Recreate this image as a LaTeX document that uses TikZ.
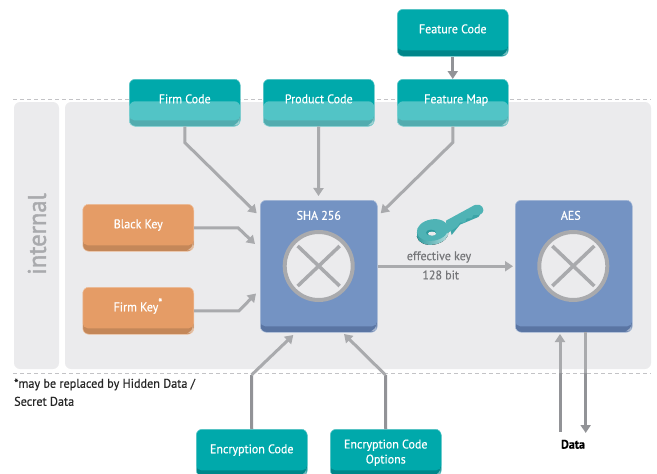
\documentclass[tikz,border=0pt]{standalone}
\usepackage{fontspec}
\setmainfont[FakeStretch=0.96,FakeBold=0.4]{PT Sans}
\usetikzlibrary{arrows.meta}

\definecolor{tealbox}{HTML}{00A9AB}
\definecolor{teallip}{HTML}{00868A}
\definecolor{orangebox}{HTML}{E59C66}
\definecolor{orangelip}{HTML}{C48759}
\definecolor{bluebox}{HTML}{7493C3}
\definecolor{bluelip}{HTML}{5A75A3}
\definecolor{panel}{HTML}{EBEBED}
\definecolor{linegray}{HTML}{A9AAAD}
\definecolor{linedark}{HTML}{929397}
\definecolor{labelgray}{HTML}{76777A}
\definecolor{keytop}{HTML}{4FB3B5}
\definecolor{keyside}{HTML}{2E9A9D}

\tikzset{
  lipbox/.style 2 args={draw=#1!55!white,line width=0.5pt,fill=#2,rounded corners=6pt,inner xsep=0pt,inner ysep=0pt,
    anchor=north west,text=white,font=\fontsize{12.5}{15}\selectfont,align=center,
    path picture={
      \fill[#1,rounded corners=5pt] ([yshift=6pt]path picture bounding box.south east) rectangle ([yshift=8pt]path picture bounding box.north west);
      \fill[white,opacity=0.45] ([xshift=-6pt,yshift=1pt]path picture bounding box.south east) -- ([xshift=-1pt,yshift=5pt]path picture bounding box.south east) -- ([xshift=-1pt,yshift=2pt]path picture bounding box.south east) -- cycle;
    }},
  codebox/.style={lipbox={tealbox}{teallip},minimum width=111pt,text height=24pt,text depth=23pt},
  optbox/.style={lipbox={tealbox}{teallip},minimum width=111pt,minimum height=47pt},
  keybox/.style={lipbox={orangebox}{orangelip},minimum width=111pt,text height=24pt,text depth=23pt},
  algobox/.style={lipbox={bluebox}{bluelip},minimum width=117pt,text height=19.5pt,text depth=112.5pt},
  overlapped/.style={codebox,
    postaction={path picture={
      \fill[white,opacity=0.32] ([yshift=25pt]path picture bounding box.south west) rectangle (path picture bounding box.south east);
    }}},
  xorcircle/.style={circle,draw=linegray,line width=4pt,fill=panel,minimum size=68pt,inner sep=0pt,
    path picture={
      \draw[linegray,line width=3.5pt] ([xshift=-21pt,yshift=-20pt]path picture bounding box.center) -- ([xshift=21pt,yshift=20pt]path picture bounding box.center);
      \draw[linegray,line width=3.5pt] ([xshift=-21pt,yshift=20pt]path picture bounding box.center) -- ([xshift=21pt,yshift=-20pt]path picture bounding box.center);
    }},
  conn/.style={draw=linegray,line width=3pt},
  connarrow/.style={conn,-{Triangle[length=8pt,width=10pt]}},
  conndark/.style={draw=linedark,line width=3pt},
  conndarkarrow/.style={conndark,-{Triangle[length=8pt,width=10pt]}},
  dashline/.style={draw=linegray!70,line width=0.8pt,dash pattern=on 4pt off 3pt},
  smalllabel/.style={text=labelgray,font=\fontsize{12.5}{15}\selectfont},
}

\begin{document}
\begin{tikzpicture}[x=1pt,y=-1pt]
\useasboundingbox (0,0) rectangle (657,474);

\draw[dashline] (13,99) -- (651,99);
\draw[dashline] (13,373) -- (651,373);
\fill[panel,rounded corners=6pt] (14,102) rectangle (59,369);
\fill[panel,rounded corners=6pt] (65,102) rectangle (651,369);

\node[rotate=90,text=linegray,font=\addfontfeature{FakeBold=1.6}\fontsize{25.5}{30}\selectfont] (internal) at (37,234) {internal};

%top row
\node[codebox] (featurecode) at (397,9) {Feature Code};
\node[overlapped] (firmcode) at (129,79) {Firm Code};
\node[overlapped] (productcode) at (263,79) {Product Code};
\node[overlapped] (featuremap) at (397,79) {\hspace{7pt}Feature Map};

%keys on the left
\node[keybox] (blackkey) at (82.5,204) {Black Key};
\node[keybox] (firmkey) at (82.5,287) {Firm Key\textsuperscript{\large*}};

%the two blocks
\node[algobox] (sha) at (260,200) {SHA 256};
\node[algobox] (aes) at (515,200) {\hspace{-6pt}AES};
\node[xorcircle] (shaxor) at (318.7,266) {};
\node[xorcircle] (aesxor) at (573.3,266) {};

%bottom row
\node[codebox] (enccode) at (196,429) {Encryption Code};
\node[optbox] (encoptions) at (330,429) {Encryption Code\\Options};

\node[font=\bfseries\fontsize{12.5}{15}\selectfont] (data) at (573,444.3) {Data};
\node[anchor=north west,align=left,inner sep=0pt,text=black!85,font=\fontsize{12.7}{18}\selectfont] (note) at (14,378.5) {*may be replaced by Hidden Data /\\Secret Data};

%the key
\begin{scope}[shift={(370,190)},x=0.3333pt,y=-0.3333pt]
\fill[left color=keyside,right color=keytop!40] (188,132) [rotate around={10:(188,132)}] ellipse (48 and 32);
\fill[keyside!60!keytop] (237,102) -- (305,57) -- (340,60) -- (325,81) -- (270,104) -- (245,135) -- cycle;
\fill[keytop] (188,120) [rotate around={10:(188,120)}] ellipse (48 and 32);
\fill[keytop] (228,92) -- (305,50) .. controls (322,38) and (340,45) .. (340,60) .. controls (340,70) and (330,75) .. (325,75) -- (310,75) -- (305,85) -- (290,85) -- (285,98) -- (270,98) -- (262,110) -- (232,130) -- cycle;
\fill[keyside] (183,128) ellipse (15 and 9);
\fill[panel] (186,131) ellipse (12 and 6);
\end{scope}

\node[smalllabel] (effkey) at (439,257) {effective key};
\node[smalllabel] (keybits) at (440.7,275) {128 bit};

%where the arrows end
\coordinate (shafirm) at (256.7,213.3);
\coordinate (shaproduct) at (318.5,196);
\coordinate (shamap) at (380.7,213.3);
\coordinate (shablack) at (255,244);
\coordinate (shafirmkey) at (256,293.5);
\coordinate (shaenc) at (293.3,335);
\coordinate (shaopt) at (344,334);
\coordinate (aesin) at (560,334);
\coordinate (datain) at (560,431.7);
\coordinate (aesout) at (585.7,332);
\coordinate (dataout) at (585.7,433);
\coordinate (encbend) at (251.5,375);
\coordinate (optbend) at (385.5,375);
\coordinate (inbend) at (560,373);
\coordinate (outbend) at (585.7,373);

\draw[conndarkarrow] (featurecode.south) -- (featuremap.north);
\draw[connarrow] (firmcode.south) -- ++(0,16) -- (shafirm);
\draw[connarrow] (productcode.south) -- (shaproduct);
\draw[connarrow] (featuremap.south) -- ++(0,16) -- (shamap);
\draw[connarrow] (blackkey.east) -- ++(44,0) -- (shablack);
\draw[connarrow] (firmkey.east) -- ++(45,0) -- (shafirmkey);
\draw[connarrow] (sha.east) -- ([xshift=-2pt]aes.west);

\draw[conndark] (enccode.north) -- (encbend);
\draw[connarrow] (encbend) -- (shaenc);
\draw[conndark] (encoptions.north) -- (optbend);
\draw[connarrow] (optbend) -- (shaopt);

\draw[conndark] (datain) -- (inbend);
\draw[connarrow] (inbend) -- (aesin);
\draw[conn] (aesout) -- (outbend);
\draw[conndarkarrow] (outbend) -- (dataout);
\end{tikzpicture}
\end{document}
